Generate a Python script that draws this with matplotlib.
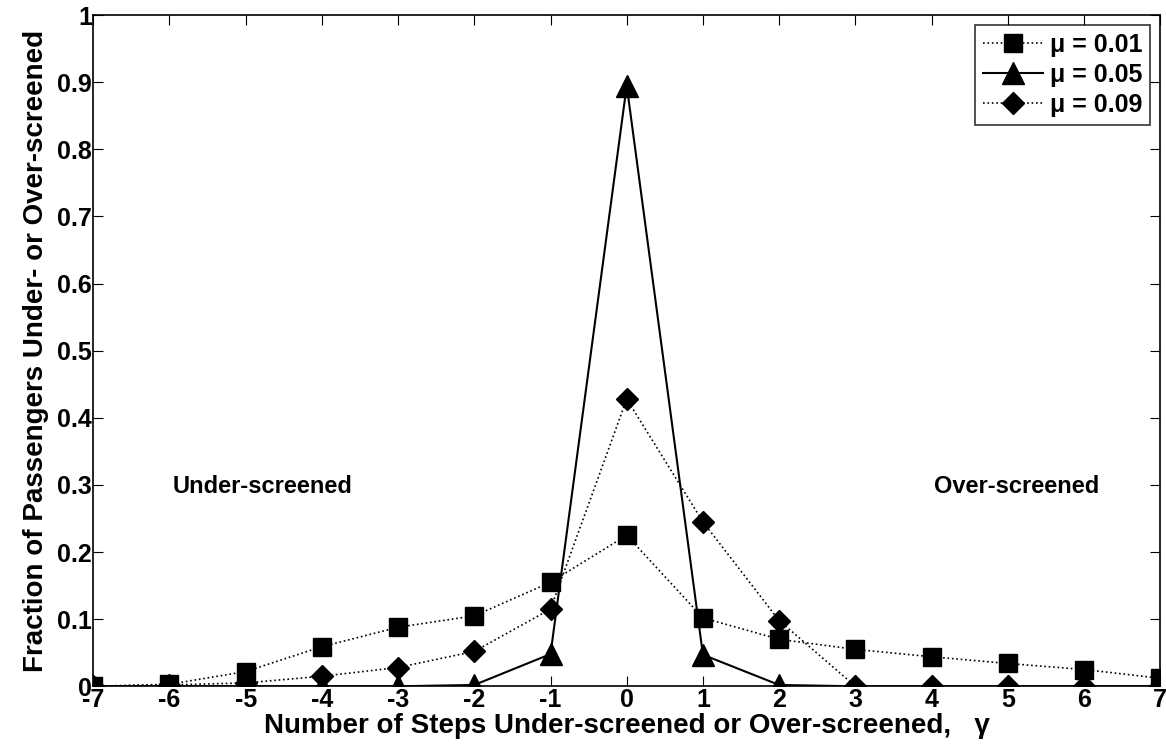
import numpy as np
from matplotlib import pyplot as plt

plt.rcParams['font.family'] = ['Liberation Sans', 'DejaVu Sans']
plt.rcParams['font.weight'] = 'bold'
plt.rcParams['axes.labelweight'] = 'bold'
plt.rcParams['axes.unicode_minus'] = False

gamma = [-7, -6, -5, -4, -3, -2, -1, 0, 1, 2, 3, 4, 5, 6, 7]
mu001 = [0.0, 0.003, 0.022, 0.059, 0.088, 0.105, 0.155, 0.225, 0.102, 0.070, 0.055, 0.044, 0.034, 0.025, 0.012]
mu005 = [0.0, 0.0, 0.0, 0.0, 0.0, 0.002, 0.048, 0.895, 0.047, 0.002, 0.0, 0.0, 0.0, 0.0, 0.0]
mu009 = [0.0, 0.002, 0.005, 0.015, 0.028, 0.052, 0.115, 0.428, 0.245, 0.098, 0.0, 0.0, 0.0, 0.0, 0.0]

fig = plt.figure(figsize=(11.66, 7.55), dpi=100)
ax = fig.add_axes([0.080, 0.091, 0.915, 0.889])

ax.plot(gamma, mu001, color='black', linestyle=':', linewidth=1.2,
        marker='s', markersize=13, label='\u03bc = 0.01')
ax.plot(gamma, mu005, color='black', linestyle='-', linewidth=1.5,
        marker='^', markersize=16, label='\u03bc = 0.05')
ax.plot(gamma, mu009, color='black', linestyle=':', linewidth=1.2,
        marker='D', markersize=11, label='\u03bc = 0.09')

ax.set_xlim(-7, 7)
ax.set_ylim(0, 1)
ax.set_xticks(range(-7, 8))
ax.set_yticks(np.arange(0, 1.01, 0.1))
ax.set_yticklabels(['0', '0.1', '0.2', '0.3', '0.4', '0.5', '0.6', '0.7', '0.8', '0.9', '1'])
ax.tick_params(direction='in', top=True, right=True, labelsize=18, length=7, pad=1)
for s in ax.spines.values():
    s.set_linewidth(1.2)

ax.text(-4.78, 0.298, 'Under-screened', fontsize=17, ha='center', va='center')
ax.text(5.11, 0.298, 'Over-screened', fontsize=17, ha='center', va='center')

ax.set_xlabel('Number of Steps Under-screened or Over-screened,   \u03b3', fontsize=20, labelpad=1)
ax.set_ylabel('Fraction of Passengers Under- or Over-screened', fontsize=20, labelpad=6)

leg = ax.legend(loc='upper right', fontsize=18, fancybox=False, edgecolor='black',
                handlelength=2.4, borderpad=0.3, labelspacing=0.25, handletextpad=0.3,
                borderaxespad=0.4)
leg.get_frame().set_linewidth(1.2)

plt.savefig('out.png', dpi=100)
